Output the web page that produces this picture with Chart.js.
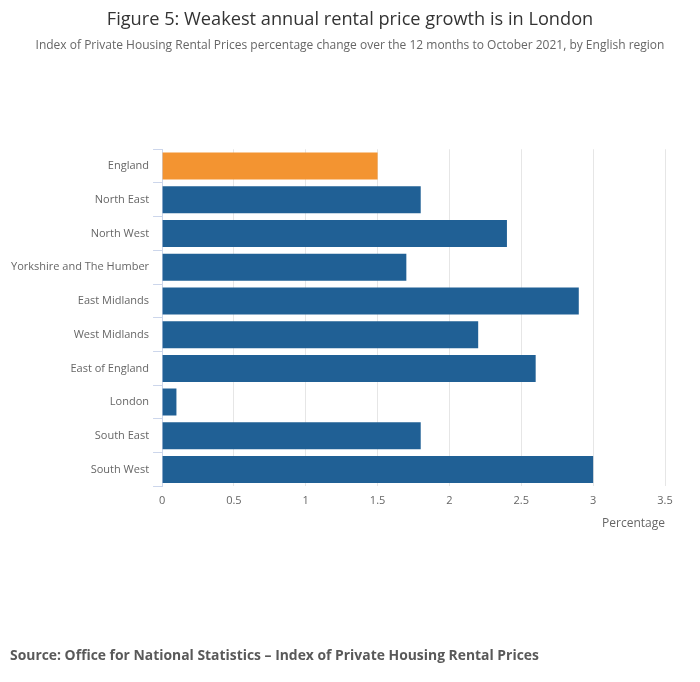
<!DOCTYPE html>
<html>
<head>
    <title>Weakest annual rental price growth is in London</title>
    <script src="https://cdn.jsdelivr.net/npm/chart.js"></script>
    <style>
        body { margin: 0; background: #fff; font-family: 'Open Sans', sans-serif; }
        #wrap { position: relative; width: 700px; height: 682px; }
        #source { position: absolute; left: 10px; top: 645px; font-size: 13.9px; font-weight: bold; color: #595959; }
    </style>
</head>
<body>
    <div id="wrap">
        <canvas id="rentChart" width="700" height="682"></canvas>
        <div id="source">Source: Office for National Statistics – Index of Private Housing Rental Prices</div>
    </div>

    <script>
        const regions = ['England', 'North East', 'North West', 'Yorkshire and The Humber', 'East Midlands',
            'West Midlands', 'East of England', 'London', 'South East', 'South West'];
        const growth = [1.5, 1.8, 2.4, 1.7, 2.9, 2.2, 2.6, 0.1, 1.8, 3.0];
        const barColours = regions.map(r => r === 'England' ? '#f39431' : '#206095');

        Chart.defaults.font.family = "'Open Sans', sans-serif";
        Chart.defaults.color = '#666';

        const ctx = document.getElementById('rentChart').getContext('2d');
        new Chart(ctx, {
            type: 'bar',
            data: {
                labels: regions,
                datasets: [{
                    label: 'Percentage',
                    data: growth,
                    backgroundColor: barColours,
                    barPercentage: 0.8,
                    categoryPercentage: 1
                }]
            },
            options: {
                indexAxis: 'y',
                responsive: false,
                animation: false,
                layout: { padding: { top: 0, right: 7, bottom: 147, left: 7 } },
                plugins: {
                    legend: { display: false },
                    tooltip: { enabled: false },
                    title: {
                        display: true,
                        text: 'Figure 5: Weakest annual rental price growth is in London',
                        color: '#333',
                        font: { size: 18.2, weight: 'normal' },
                        padding: { top: 9, bottom: 8 }
                    },
                    subtitle: {
                        display: true,
                        text: 'Index of Private Housing Rental Prices percentage change over the 12 months to October 2021, by English region',
                        color: '#666',
                        font: { size: 12 },
                        padding: { top: 0, bottom: 96 }
                    }
                },
                scales: {
                    x: {
                        min: 0,
                        max: 3.5,
                        ticks: { stepSize: 0.5, font: { size: 11 }, color: '#666', padding: 8, callback: v => String(v) },
                        grid: { color: '#e6e6e6', drawTicks: false },
                        border: { display: false },
                        title: {
                            display: true,
                            text: 'Percentage',
                            align: 'end',
                            color: '#666',
                            font: { size: 12 },
                            padding: { top: 1 }
                        },
                        afterFit: scale => { scale.paddingRight = 35; }
                    },
                    y: {
                        ticks: { font: { size: 11 }, color: '#666', padding: 4 },
                        grid: { offset: true, drawOnChartArea: false, color: '#ccd6eb', tickLength: 9 },
                        border: { color: '#ccd6eb' }
                    }
                }
            }
        });
    </script>
</body>
</html>
